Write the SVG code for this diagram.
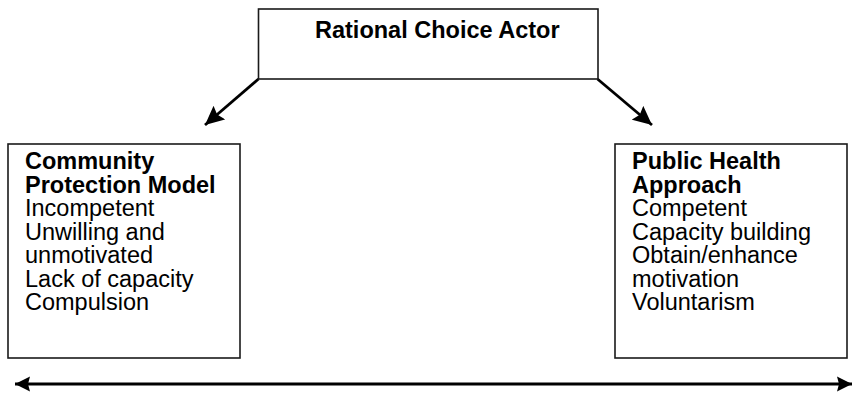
<svg xmlns="http://www.w3.org/2000/svg" width="856" height="396" viewBox="0 0 856 396">
<style>
.box{fill:#fff;stroke:#1a1a1a;stroke-width:1.6}
.t{font-family:"Liberation Sans",Arial,sans-serif;font-size:23.5px;fill:#000}
.b{font-weight:bold}
.con{stroke:#000;fill:none}
</style>
<defs>
<marker id="ah" markerUnits="userSpaceOnUse" markerWidth="20" markerHeight="18" viewBox="0 0 20 18" refX="19" refY="9" orient="auto-start-reverse">
<path d="M0,0 L19,9 L0,18 L3,9 Z" fill="#000"/>
</marker>
<marker id="ah2" markerUnits="userSpaceOnUse" markerWidth="16" markerHeight="16" viewBox="0 0 16 16" refX="15" refY="8" orient="auto-start-reverse">
<path d="M0,0.5 L15,8 L0,15.5 L2,8 Z" fill="#000"/>
</marker>
</defs>
<rect width="856" height="396" fill="#fff"/>
<g id="connectors">
<line class="con" x1="258.5" y1="79" x2="205" y2="125" stroke-width="2.8" marker-end="url(#ah)"/>
<line class="con" x1="597.5" y1="79" x2="652" y2="125" stroke-width="2.8" marker-end="url(#ah)"/>
<line class="con" x1="15" y1="384" x2="852" y2="384" stroke-width="3" marker-start="url(#ah2)" marker-end="url(#ah2)"/>
</g>
<g id="node-top">
<rect class="box" x="258.5" y="9" width="339.5" height="70"/>
<text class="t b" x="315" y="38">Rational Choice Actor</text>
</g>
<g id="node-left">
<rect class="box" x="8" y="144" width="232" height="214"/>
<text class="t"><tspan class="b" x="25" y="169">Community</tspan><tspan class="b" x="25" y="192.5">Protection Model</tspan><tspan x="25" y="216">Incompetent</tspan><tspan x="25" y="239.5">Unwilling and</tspan><tspan x="25" y="263">unmotivated</tspan><tspan x="25" y="286.5">Lack of capacity</tspan><tspan x="25" y="310">Compulsion</tspan></text>
</g>
<g id="node-right">
<rect class="box" x="615" y="144" width="232" height="214"/>
<text class="t"><tspan class="b" x="632" y="169">Public Health</tspan><tspan class="b" x="632" y="192.5">Approach</tspan><tspan x="632" y="216">Competent</tspan><tspan x="632" y="239.5">Capacity building</tspan><tspan x="632" y="263">Obtain/enhance</tspan><tspan x="632" y="286.5">motivation</tspan><tspan x="632" y="310">Voluntarism</tspan></text>
</g>
</svg>
